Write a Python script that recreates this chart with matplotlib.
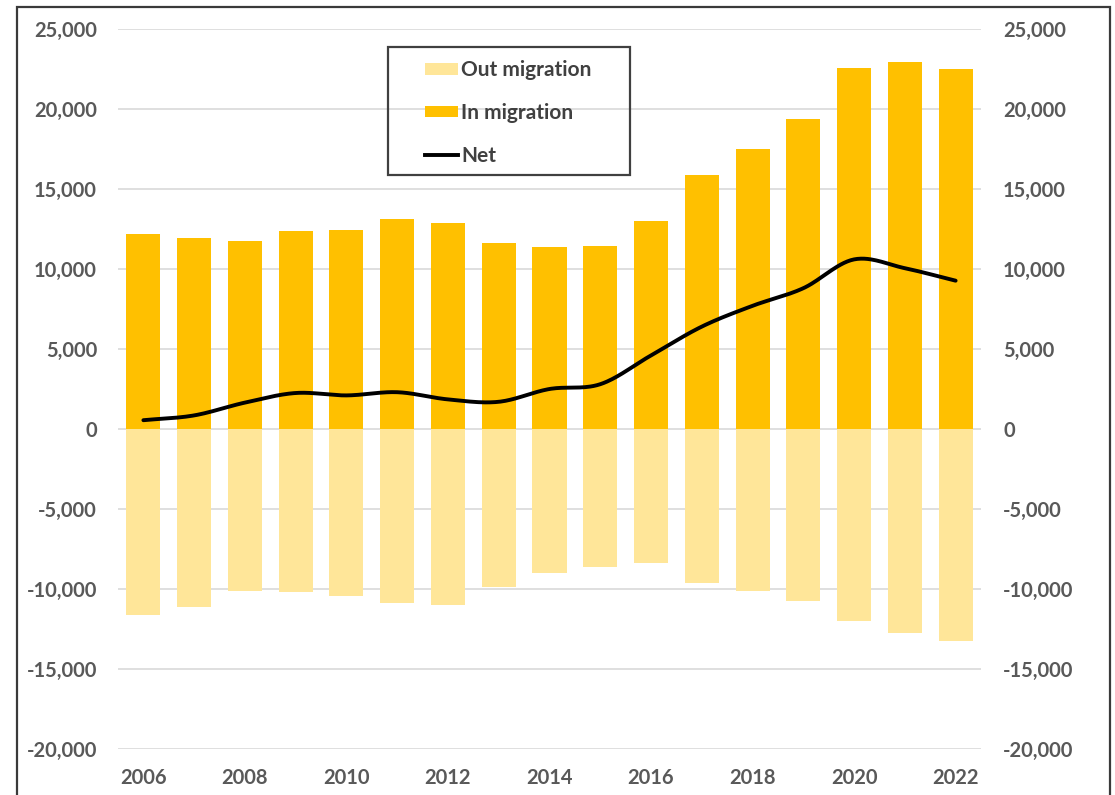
import numpy as np
import matplotlib
matplotlib.use("Agg")
import matplotlib.pyplot as plt
from matplotlib.ticker import FuncFormatter, MultipleLocator
from matplotlib.patches import Patch, Rectangle
from matplotlib.lines import Line2D

years = list(range(2006, 2023))
in_migration = [12170, 11950, 11750, 12400, 12450, 13100, 12850, 11600, 11400,
                11450, 13000, 15850, 17500, 19350, 22550, 22950, 22500]
out_migration = [-11650, -11100, -10100, -10200, -10450, -10850, -11000, -9850, -8980,
                 -8600, -8400, -9650, -10100, -10750, -12000, -12750, -13250]
net = [550, 850, 1650, 2250, 2100, 2300, 1850, 1700, 2500,
       2800, 4600, 6400, 7700, 8800, 10600, 10050, 9270]
tick_years = [str(y) for y in range(2006, 2023, 2)]

IN_COLOR = "#FFC000"
OUT_COLOR = "#FFE699"
TEXT_COLOR = "#595959"
FONT = ["Lato", "DejaVu Sans"]

plt.rcParams["font.family"] = FONT

W, H = 1115, 795
PX = 72 / 100  # points per pixel at 100 dpi


def smooth_curve(x, y, steps=30):
    """Catmull-Rom rendering of a smoothed line through the given points."""
    x = np.asarray(x, float)
    y = np.asarray(y, float)
    px = np.concatenate([[2 * x[0] - x[1]], x, [2 * x[-1] - x[-2]]])
    py = np.concatenate([[2 * y[0] - y[1]], y, [2 * y[-1] - y[-2]]])
    xs, ys = [], []
    t = np.linspace(0, 1, steps, endpoint=False)
    for i in range(1, len(px) - 2):
        p0, p1, p2, p3 = (np.array([px[j], py[j]]) for j in range(i - 1, i + 3))
        b1 = p1 + (p2 - p0) / 6
        b2 = p2 - (p3 - p1) / 6
        seg = ((1 - t) ** 3)[:, None] * p1 + (3 * (1 - t) ** 2 * t)[:, None] * b1 \
            + (3 * (1 - t) * t ** 2)[:, None] * b2 + (t ** 3)[:, None] * p2
        xs.extend(seg[:, 0])
        ys.extend(seg[:, 1])
    xs.append(x[-1])
    ys.append(y[-1])
    return np.array(xs), np.array(ys)


fig = plt.figure(figsize=(W / 100, H / 100), dpi=100)
ax = fig.add_axes([118 / W, 1 - 749 / H, (981 - 118) / W, (749 - 29) / H])

idx = np.arange(len(years))
ax.bar(idx, out_migration, width=0.67, color=OUT_COLOR, zorder=2)
ax.bar(idx, in_migration, width=0.67, color=IN_COLOR, zorder=2)

ylim = (-20000, 25000)
ax.set_ylim(*ylim)
ax.set_xlim(-0.5, len(years) - 0.5)
ax.yaxis.set_major_locator(MultipleLocator(5000))
fmt = FuncFormatter(lambda v, p: f"{v:,.0f}")
ax.yaxis.set_major_formatter(fmt)
ax.grid(axis="y", color="#D9D9D9", linewidth=1.2, zorder=0)
ax.set_axisbelow(True)

ax.set_xticks(idx[::2])
ax.set_xticklabels(tick_years)

ax2 = ax.twinx()
sx, sy = smooth_curve(idx, net)
ax2.plot(sx, sy, color="black", linewidth=2.8, solid_capstyle="round", zorder=5)
ax2.set_ylim(*ylim)
ax2.yaxis.set_major_locator(MultipleLocator(5000))
ax2.yaxis.set_major_formatter(fmt)

for a in (ax, ax2):
    for s in a.spines.values():
        s.set_visible(False)
    a.tick_params(axis="both", length=0, labelsize=14.5, labelcolor=TEXT_COLOR)
ax.tick_params(axis="y", pad=21 * PX)
ax2.tick_params(axis="y", pad=22 * PX)
ax.tick_params(axis="x", pad=19 * PX)
for lab in ax.get_xticklabels() + ax.get_yticklabels() + ax2.get_yticklabels():
    lab.set_fontweight("bold")

# Legend entries, with a hand-sized frame around them
handles = [Patch(facecolor=OUT_COLOR, edgecolor="none"),
           Patch(facecolor=IN_COLOR, edgecolor="none"),
           Line2D([0], [0], color="black", linewidth=2.8)]
labels = ["Out migration", "In migration", "Net"]
leg = fig.legend(handles, labels, loc="upper left",
                 bbox_to_anchor=(425 / W, 1 - 60 / H),
                 frameon=False, handlelength=1.6, handleheight=0.5,
                 handletextpad=0.15, labelspacing=1.1, borderpad=0,
                 borderaxespad=0, prop={"size": 15, "weight": "bold"})
for t in leg.get_texts():
    t.set_color("#404040")

fig.patches.append(Rectangle((388 / W, 1 - 175 / H), (630 - 388) / W, (175 - 47) / H,
                             transform=fig.transFigure, fill=False,
                             edgecolor="#404040", linewidth=1.6, zorder=10))

fig.patches.append(Rectangle((17 / W, -0.01), (1110 - 17) / W, 1 - 7 / H + 0.01,
                             transform=fig.transFigure, fill=False,
                             edgecolor="#3A3A3A", linewidth=1.6))

fig.savefig("out.png", dpi=100)
